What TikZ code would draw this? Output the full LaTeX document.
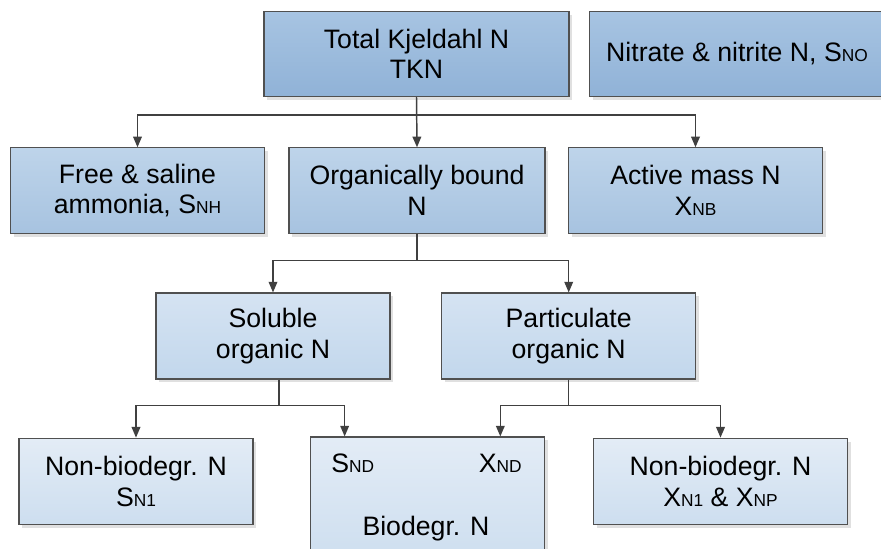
\documentclass[tikz,border=0pt]{standalone}
\usepackage{fontspec}
\setmainfont{Liberation Sans}
\usepackage{tikz}
\usetikzlibrary{calc,shadows,arrows.meta}
\definecolor{boxline}{RGB}{80, 80, 80}
\definecolor{arrowgray}{RGB}{64, 64, 64}
\definecolor{blueA}{RGB}{167, 196, 226}
\definecolor{blueAd}{RGB}{144, 178, 215}
\definecolor{blueB}{RGB}{190, 212, 234}
\definecolor{blueBd}{RGB}{167, 195, 224}
\definecolor{blueC}{RGB}{213, 227, 242}
\definecolor{blueCd}{RGB}{194, 215, 236}
\definecolor{blueD}{RGB}{227, 236, 246}
\definecolor{blueDd}{RGB}{205, 222, 239}
\newcommand{\lowsub}[1]{{\fontsize{13}{13}\selectfont #1}}

\begin{document}
\begin{tikzpicture}[
    x=0.75pt, y=-0.75pt,
    nbox/.style={rectangle, draw=boxline, line width=0.8pt, align=center,
                 minimum height=64pt, inner sep=2pt,
                 font=\fontsize{20}{23}\selectfont,
                 drop shadow={shadow xshift=2.5pt, shadow yshift=-2.5pt, fill=black!12, opacity=1}},
    lvlA/.style={nbox, top color=blueA, bottom color=blueAd},
    lvlB/.style={nbox, top color=blueB, bottom color=blueBd},
    lvlC/.style={nbox, top color=blueC, bottom color=blueCd},
    lvlD/.style={nbox, top color=blueD, bottom color=blueDd},
    link/.style={-{Triangle[length=8pt,width=6.5pt]}, draw=arrowgray, line width=1.1pt},
    plain/.style={font=\fontsize{20}{23}\selectfont, inner sep=0pt}
  ]
    \useasboundingbox (0,0) rectangle (881,549);
    \fill[white] (0,0) rectangle (881,549);

    % top level
    \node[lvlA, minimum width=228.75pt] (tkn) at (416.5,54) {Total Kjeldahl N\\TKN};
    \node[lvlA, minimum width=221pt]    (sno) at (737,54)   {Nitrate \& nitrite N, S\lowsub{NO}};

    % second level
    \node[lvlB, minimum width=191pt] (snh) at (137.5,190.5) {Free \& saline\\ammonia, S\lowsub{NH}};
    \node[lvlB, minimum width=192pt] (org) at (417,190.5)   {Organically bound\\N};
    \node[lvlB, minimum width=190pt] (xnb) at (695.5,190.5) {Active mass N\\X\lowsub{NB}};

    % third level
    \node[lvlC, minimum width=175.5pt, minimum height=64.5pt] (sol) at (273,336) {Soluble\\organic N};
    \node[lvlC, minimum width=190.5pt, minimum height=64.5pt] (par) at (568.7,336) {Particulate\\organic N};

    % bottom level
    \node[lvlD, minimum width=175.5pt, minimum height=65pt] (sn1) at (136,481.5) {Non-biodegr. N\\S\lowsub{N1}};
    \node[lvlD, minimum width=176pt, minimum height=94.5pt] (bio) at (427.5,500) {};
    \node[plain, anchor=base west] (snd) at (331,472) {S\lowsub{ND}};
    \node[plain, anchor=base east] (xnd) at (522,472) {X\lowsub{ND}};
    \node[plain, anchor=base] (biotxt) at (426,535) {Biodegr. N};
    \node[lvlD, minimum width=191pt, minimum height=65pt] (xn1) at (720.5,481.5) {Non-biodegr. N\\X\lowsub{N1} \& X\lowsub{NP}};

    \coordinate (solout) at ($(sol.south)+(6,0)$);
    \coordinate (sndin) at ($(bio.north west)+(35,0)$);

    % connectors
    \draw[link] (tkn.south) -- ++(0,18) -| (snh.north);
    \draw[link] (tkn.south) -- (org.north);
    \draw[link] (tkn.south) -- ++(0,18) -| (xnb.north);

    \draw[link] (org.south) -- ++(0,27) -| (sol.north);
    \draw[link] (org.south) -- ++(0,27) -| (par.north);

    \draw[link] (solout) -- ++(0,26) -| (sn1.north);
    \draw[link] (solout) -- ++(0,26) -| (sndin);
    \draw[link] (par.south) -- ++(0,26) -| (xnd.center |- bio.north);
    \draw[link] (par.south) -- ++(0,26) -| (xn1.north);
  \end{tikzpicture}
\end{document}
